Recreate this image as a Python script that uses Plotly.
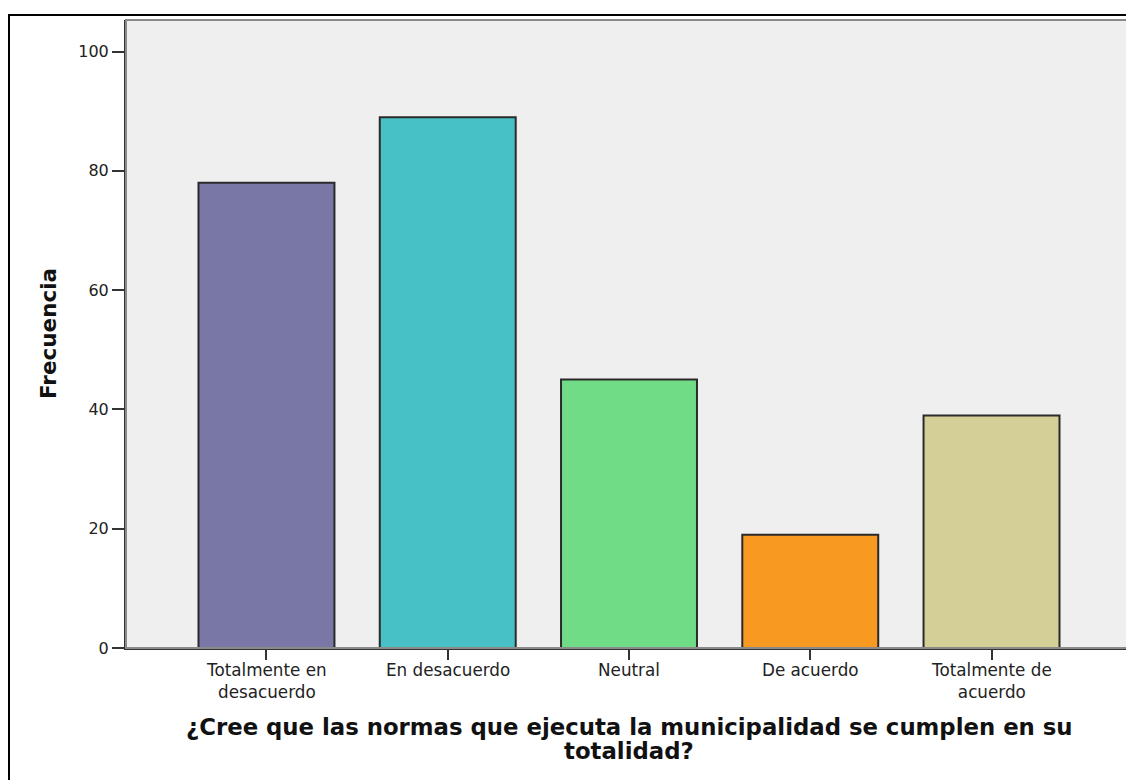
import plotly.graph_objects as go

categories = ["Totalmente en desacuerdo", "En desacuerdo", "Neutral", "De acuerdo", "Totalmente de acuerdo"]
tick_labels = ["Totalmente en<br>desacuerdo", "En desacuerdo", "Neutral", "De acuerdo", "Totalmente de<br>acuerdo"]
frecuencia = [78, 89, 45, 19, 39]
bar_colors = ["#7877A6", "#48C1C6", "#71DC86", "#F89A22", "#D4CE97"]
y_ticks = [0, 20, 40, 60, 80, 100]
x_title_lines = ["¿Cree que las normas que ejecuta la municipalidad se cumplen en su", "totalidad?"]
y_title = "Frecuencia"

# the page body adds an 8px margin, so the figure is 8px smaller and shifted
W, H = 1126, 772
L, R, T, B = 118, 2, 12, 132
pw, ph = W - L - R, H - T - B

fig = go.Figure()
fig.add_trace(go.Bar(
    x=list(range(len(categories))), y=frecuencia,
    width=0.75,
    marker=dict(color=bar_colors, line=dict(color="#2a2a2a", width=2)),
    hovertext=categories,
))

xtick_font = dict(family="DejaVu Sans, Verdana, sans-serif", size=16.8, color="#222222")
ytick_font = dict(family="DejaVu Sans, Verdana, sans-serif", size=16, color="#222222")
xtitle_font = dict(family="DejaVu Sans, Verdana, sans-serif", size=22.8, color="#111111")
ytitle_font = dict(family="DejaVu Sans, Verdana, sans-serif", size=21.5, color="#111111")

annotations = []
for i, label in enumerate(tick_labels):
    annotations.append(dict(
        x=i, xref="x", y=0, yref="paper", yanchor="top", xanchor="center",
        yshift=-10, text=label, showarrow=False, font=xtick_font,
    ))
for j, line in enumerate(x_title_lines):
    annotations.append(dict(
        x=0.5, xref="paper", y=0, yref="paper", yanchor="top", xanchor="center",
        yshift=-64 - 24 * j, text="<b>" + line + "</b>", showarrow=False, font=xtitle_font,
    ))
annotations.append(dict(
    x=(40 - L) / pw, xref="paper", y=0.5, yref="paper", xanchor="center", yanchor="middle",
    text="<b>" + y_title + "</b>", textangle=-90, showarrow=False, font=ytitle_font,
))

shapes = [
    # plot frame (light)
    dict(type="rect", xref="paper", yref="paper", x0=0, x1=1, y0=0, y1=1,
         line=dict(color="#8a8a8a", width=2), layer="above"),
    # outer border
    dict(type="rect", xref="paper", yref="paper",
         x0=(1 - L) / pw, x1=(W + 20 - L) / pw,
         y0=-(H + 20 - (T + ph)) / ph, y1=(T + ph - 7) / ph,
         line=dict(color="#000000", width=2)),
]

fig.update_layout(
    width=W, height=H,
    margin=dict(l=L, r=R, t=T, b=B),
    paper_bgcolor="white", plot_bgcolor="#EFEFEF",
    showlegend=False,
    annotations=annotations, shapes=shapes,
    xaxis=dict(range=[-0.775, 4.775], tickvals=list(range(len(categories))), showticklabels=False,
               ticks="outside", ticklen=10, tickwidth=2, tickcolor="#333333",
               showline=True, linecolor="#333333", linewidth=2, showgrid=False, zeroline=False),
    yaxis=dict(range=[0, 105.3], tickvals=y_ticks, ticks="outside", ticklen=12, tickwidth=2,
               tickcolor="#333333", tickfont=ytick_font,
               showline=True, linecolor="#333333", linewidth=2, showgrid=False, zeroline=False),
)

fig.write_html("out.html")
